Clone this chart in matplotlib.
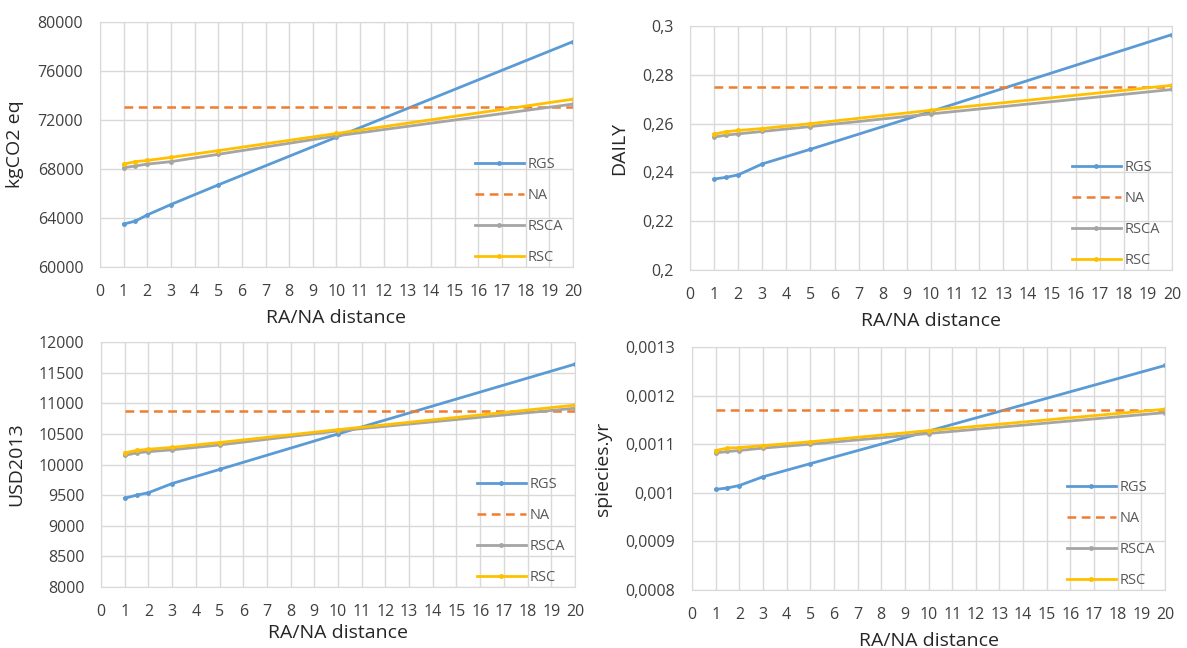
import matplotlib
matplotlib.use("Agg")
import matplotlib.pyplot as plt
import matplotlib.ticker as ticker
import numpy as np

plt.rcParams['font.family'] = ['Open Sans', 'DejaVu Sans']

# RA/NA distances where values were computed
distance = [1, 1.5, 2, 3, 5, 10, 20]
series_names = ['RGS', 'NA', 'RSCA', 'RSC']

# climate change (kgCO2 eq)
co2_rgs = [63500, 63750, 64250, 65100, 66700, 70600, 78400]
co2_na = [73100] * 7
co2_rsca = [68100, 68250, 68400, 68600, 69200, 70700, 73300]
co2_rsc = [68400, 68600, 68700, 68950, 69500, 70900, 73700]

# human health (DALY)
daly_rgs = [0.2373, 0.2380, 0.2390, 0.2435, 0.2495, 0.2650, 0.2965]
daly_na = [0.2752] * 7
daly_rsca = [0.2545, 0.2553, 0.2558, 0.2568, 0.2588, 0.2640, 0.2740]
daly_rsc = [0.2557, 0.2567, 0.2572, 0.2580, 0.2600, 0.2655, 0.2757]

# resources (USD2013)
usd_rgs = [9450, 9500, 9540, 9690, 9920, 10500, 11640]
usd_na = [10870] * 7
usd_rsca = [10150, 10190, 10210, 10240, 10320, 10550, 10920]
usd_rsc = [10190, 10230, 10250, 10280, 10360, 10570, 10970]

# ecosystems (species.yr)
eco_rgs = [0.001007, 0.001010, 0.001015, 0.001033, 0.001060, 0.001127, 0.001262]
eco_na = [0.001170] * 7
eco_rsca = [0.001082, 0.001085, 0.001087, 0.001092, 0.001100, 0.001122, 0.001165]
eco_rsc = [0.001087, 0.001092, 0.001093, 0.001097, 0.001105, 0.001128, 0.001172]

colors = ['#5B9BD5', '#ED7D31', '#A5A5A5', '#FFC000']
styles = ['-', '--', '-', '-']


def comma_fmt(v, pos):
	return ('%g' % round(v, 6)).replace('.', ',')


def plot_panel(fig, rect, data_arrays, ylim, ystep, ylabel_str, comma, xlabelpad):
	ax = fig.add_axes(rect)
	for pos, line in enumerate(data_arrays):
		if styles[pos] == '--':
			ax.plot(distance, line, color=colors[pos], linestyle='--', linewidth=1.8,
				dashes=(3.5, 2.2), label=series_names[pos])
		else:
			ax.plot(distance, line, color=colors[pos], linestyle='-', linewidth=2.0,
				marker='o', markersize=2.5, label=series_names[pos])
	ax.set_xlim(0, 20)
	ax.set_ylim(*ylim)
	ax.xaxis.set_major_locator(ticker.MultipleLocator(1))
	ax.yaxis.set_major_locator(ticker.MultipleLocator(ystep))
	if comma:
		ax.yaxis.set_major_formatter(ticker.FuncFormatter(comma_fmt))
	ax.grid(True, color='#D9D9D9', linewidth=1.0)
	ax.set_axisbelow(True)
	for s in ax.spines.values():
		s.set_color('#D9D9D9')
	ax.tick_params(axis='x', length=0, labelsize=11.5, colors='#404040', pad=12)
	ax.tick_params(axis='y', length=0, labelsize=11.5, colors='#404040', pad=12)
	ax.set_xlabel('RA/NA distance', fontsize=14, color='#262626', labelpad=xlabelpad)
	ax.set_ylabel(ylabel_str, fontsize=14, color='#262626', labelpad=10)
	ax.legend(loc='lower left', bbox_to_anchor=(0.765, -0.045), frameon=False, fontsize=10.5,
		handlelength=3.35, handletextpad=0.27, labelspacing=1.1, labelcolor='#595959')
	return ax


fig = plt.figure(figsize=(11.87, 6.48), dpi=100)
plot_panel(fig, [0.0842, 0.588, 0.3985, 0.378], [co2_rgs, co2_na, co2_rsca, co2_rsc],
	(60000, 80000), 4000, 'kgCO2 eq', False, 7)
plot_panel(fig, [0.5813, 0.5833, 0.406, 0.3765], [daly_rgs, daly_na, daly_rsca, daly_rsc],
	(0.2, 0.3), 0.02, 'DAILY', True, 7)
plot_panel(fig, [0.0851, 0.0941, 0.3993, 0.378], [usd_rgs, usd_na, usd_rsca, usd_rsc],
	(8000, 12000), 500, 'USD2013', False, 3)
plot_panel(fig, [0.583, 0.0895, 0.3985, 0.375], [eco_rgs, eco_na, eco_rsca, eco_rsc],
	(0.0008, 0.0013), 0.0001, 'spiecies.yr', True, 7)

plt.savefig('out.png', dpi=100)
